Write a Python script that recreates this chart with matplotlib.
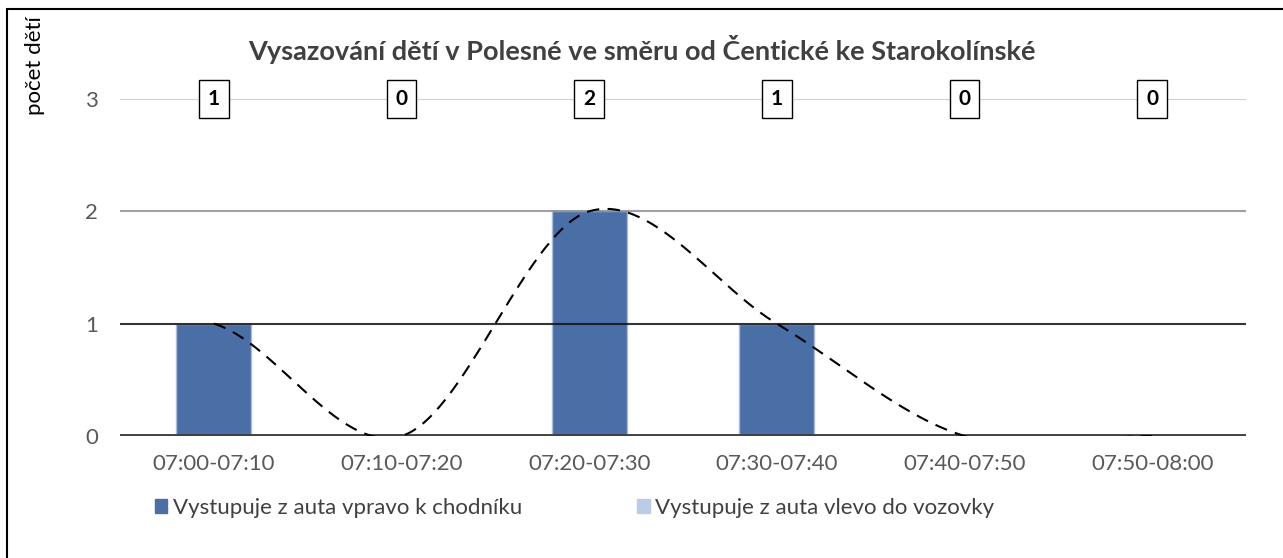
import numpy as np
import matplotlib.pyplot as plt
from matplotlib.patches import Rectangle, Patch

plt.rcParams['font.family'] = ['Lato', 'DejaVu Sans']

intervaly = ['07:00-07:10', '07:10-07:20', '07:20-07:30',
             '07:30-07:40', '07:40-07:50', '07:50-08:00']
vpravo = [1, 0, 2, 1, 0, 0]
vlevo = [0, 0, 0, 0, 0, 0]
celkem = [a + b for a, b in zip(vpravo, vlevo)]

nazev = 'Vysazování dětí v Polesné ve směru od Čentické ke Starokolínské'
serie = ['Vystupuje z auta vpravo k chodníku', 'Vystupuje z auta vlevo do vozovky']


def vyhladit(y, n=60):
    # excel-like smoothing (cardinal spline, bezier 1/6)
    y = np.asarray(y, float)
    k = len(y)
    m = np.zeros(k)
    for i in range(k):
        a = y[max(i - 1, 0)]
        b = y[min(i + 1, k - 1)]
        m[i] = (b - a) / 2
    xs, ys = [], []
    for i in range(k - 1):
        t = np.linspace(0, 1, n)
        h00 = 2*t**3 - 3*t**2 + 1
        h10 = t**3 - 2*t**2 + t
        h01 = -2*t**3 + 3*t**2
        h11 = t**3 - t**2
        xs.append(i + t)
        ys.append(h00*y[i] + h10*m[i] + h01*y[i+1] + h11*m[i+1])
    return np.concatenate(xs), np.concatenate(ys)


W, H = 1283, 558
fig = plt.figure(figsize=(W/100, H/100), dpi=100)
ax = fig.add_axes([120/W, 1 - 436/H, 1126/W, 337/H])

x = np.arange(len(intervaly))
ax.bar(x, vpravo, 0.4, color='#4a6ea6', edgecolor='#a9bcd9', linewidth=1, zorder=2)
ax.bar(x, vlevo, 0.4, bottom=vpravo, color='#b9cde5', zorder=2)

# gridlines
ax.axhline(3, color='#d0d0d0', lw=1.5, zorder=1)
ax.axhline(2, color='#888888', lw=1.5, zorder=3, alpha=0.8)
ax.axhline(1, color='#111111', lw=1.5, zorder=3, alpha=0.85)
ax.axhline(0, color='#404040', lw=3.5, zorder=4)

sx, sy = vyhladit(celkem)
ax.plot(sx, sy, color='black', lw=1.5, dashes=(6, 4), zorder=5)

for xi, c in zip(x, celkem):
    ax.text(xi, 3, str(c), ha='center', va='center', fontsize=15, fontweight='bold',
            bbox=dict(boxstyle='square,pad=0.42', fc='white', ec='black', lw=1),
            zorder=6, clip_on=False)

ax.set_xlim(-0.5, 5.5)
ax.set_ylim(0, 3)
ax.set_yticks([0, 1, 2, 3])
ax.set_xticks(x)
ax.set_xticklabels(intervaly)
ax.tick_params(length=0, colors='#595959', labelsize=16)
ax.tick_params(axis='y', pad=16)
ax.tick_params(axis='x', pad=13)
for s in ax.spines.values():
    s.set_visible(False)

fig.text(642/W, 1 - 49/H, nazev, ha='center', va='center', fontsize=19.5,
         fontweight='bold', color='#404040')
fig.text(35/W, 1 - 66/H, 'počet dětí', rotation=90, ha='center', va='center',
         fontsize=16, color='black')

handles = [Patch(color='#4a6ea6'), Patch(color='#b9cde5')]
fig.legend(handles, serie, loc='center left', bbox_to_anchor=(146/W, 1 - 508/H),
           ncol=2, frameon=False, fontsize=16, handlelength=0.55, handleheight=0.55,
           handletextpad=0.25, columnspacing=5.2, labelcolor='#404040', borderaxespad=0)

fig.add_artist(Rectangle((7/W, -0.1), 1.1, 1 - 9/H + 0.1, transform=fig.transFigure,
                         fill=False, ec='black', lw=1.5))

fig.savefig('out.png', dpi=100)
